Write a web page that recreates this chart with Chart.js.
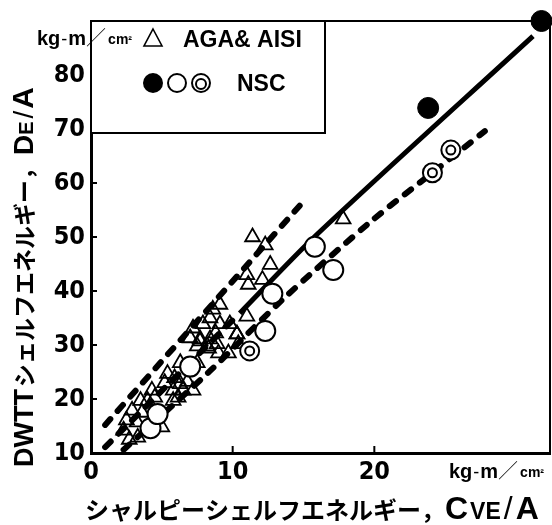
<!DOCTYPE html>
<html>
<head>
<meta charset="utf-8">
<script src="https://cdn.jsdelivr.net/npm/chart.js@4.4.0/dist/chart.umd.min.js"></script>
<style>
  html, body { margin: 0; padding: 0; background: #fff; }
  #wrap { width: 552px; height: 525px; }
</style>
</head>
<body>
<div id="wrap"><canvas id="chart" width="552" height="525"></canvas></div>
<script>
// tick labels
var xTicks = [0, 10, 20];
var yTicks = [10, 20, 30, 40, 50, 60, 70, 80];

// AGA & AISI (triangles)
var triX = [2.3, 2.7, 3.3, 2.5, 3.25, 2.9, 3.6, 3.5, 4.0, 4.3, 4.5, 5.0,
  5.2, 5.4, 5.8, 5.9, 5.8, 6.3, 6.5, 6.8, 7.2, 6.3, 7.5, 6.15,
  7.0, 7.2, 7.7, 8.3, 8.9, 9.0, 9.7, 9.1, 9.8, 10.3, 10.4, 11.0,
  8.4, 8.8, 7.9, 9.1, 8.6, 7.5, 8.2, 8.4, 7.7, 10.3,
  11.0, 11.1, 12.1, 11.4, 12.3, 12.65, 17.8];
var triY = [14.2, 12.5, 12.9, 16.1, 15.7, 17.9, 17.5, 19.7, 19.7, 21.6, 20.3, 14.8,
  23.0, 24.7, 21.6, 23.9, 19.7, 22.8, 21.6, 23.2, 21.6, 26.7, 26.7, 20.3,
  31.3, 33.1, 30.7, 29.4, 30.2, 28.5, 28.5, 33.9, 33.9, 32.0, 30.2, 35.3,
  35.0, 32.2, 33.9, 37.5, 36.6, 29.8, 29.8, 31.1, 31.1, 32.0,
  43.0, 41.2, 42.1, 50.0, 48.5, 44.9, 53.3];

// NSC
var fillX = [23.8, 31.8];
var fillY = [73.9, 90.0];
var openX = [4.2, 4.7, 7.0, 12.3, 12.8, 15.8, 17.1];
var openY = [14.6, 17.2, 26.0, 32.6, 39.5, 48.2, 43.9];
var dblX = [11.2, 24.1, 25.4];
var dblY = [28.9, 61.9, 66.1];

// fitted lines
var upperBandX = [1.0, 14.8];
var upperBandY = [15.2, 56.0];
var lowerBandX = [1.0, 10.5];
var lowerBandY = [11.1, 35.9];
var nscSolidX = [10.5, 16.0, 31.2];
var nscSolidY = [35.9, 50.6, 87.2];
var nscDashX = [2.3, 8.4, 13.6, 19.7, 24.1, 27.8];
var nscDashY = [10.6, 25.2, 38.6, 52.75, 61.9, 69.6];

var LAT = '"Liberation Sans", Arial, sans-serif';
var NARROW = '"Liberation Sans Narrow", "DejaVu Sans Condensed", "Liberation Sans", sans-serif';
var CJK = '"Noto Sans CJK JP", "Noto Sans CJK SC", sans-serif';

function pts(xs, ys) {
  return xs.map(function(x, i) { return {x: x, y: ys[i]}; });
}

function pieces(ctx, list, x, y) {
  list.forEach(function(p) {
    ctx.font = p[1];
    ctx.fillText(p[0], x, y);
    x += ctx.measureText(p[0]).width + (p[2] || 0);
  });
  return x;
}

function unitText(ctx, x, y) {
  ctx.textBaseline = 'alphabetic';
  ctx.textAlign = 'left';
  x = pieces(ctx, [['kg', '700 20px ' + LAT, 1], ['-', '400 18px ' + LAT, 1], ['m', '700 20px ' + LAT, 0]], x, y);
  x = pieces(ctx, [['／', '300 20px ' + CJK, 2]], x, y);
  pieces(ctx, [['cm', '700 14px ' + LAT], ['²', '700 11px ' + LAT]], x, y - 1);
}

var deco = {
  id: 'deco',
  afterDraw: function(chart) {
    var ctx = chart.ctx;
    var a = chart.chartArea;
    var xs = chart.scales.x, ys = chart.scales.y;
    ctx.save();
    ctx.strokeStyle = '#000';
    ctx.fillStyle = '#000';

    // frame top and right
    ctx.lineWidth = 2;
    ctx.beginPath();
    ctx.moveTo(a.left, a.top);
    ctx.lineTo(a.right, a.top);
    ctx.lineTo(a.right, a.bottom);
    ctx.stroke();

    // inward ticks
    ctx.lineWidth = 2;
    yTicks.forEach(function(v) {
      var py = ys.getPixelForValue(v);
      ctx.beginPath(); ctx.moveTo(a.left, py); ctx.lineTo(a.left + 6, py); ctx.stroke();
    });
    xTicks.forEach(function(v) {
      var px = xs.getPixelForValue(v);
      ctx.beginPath(); ctx.moveTo(px, a.bottom); ctx.lineTo(px, a.bottom - 7); ctx.stroke();
    });

    // legend box
    ctx.fillStyle = '#fff';
    ctx.fillRect(a.left, a.top, 234, 112);
    ctx.fillStyle = '#000';
    ctx.lineWidth = 2;
    ctx.strokeRect(a.left, a.top, 234, 112);

    // triangle symbol
    ctx.lineWidth = 1.6;
    ctx.beginPath();
    ctx.moveTo(153, 29); ctx.lineTo(162, 46); ctx.lineTo(144, 46); ctx.closePath();
    ctx.stroke();
    ctx.textBaseline = 'alphabetic';
    ctx.font = '700 23px ' + LAT;
    ctx.fillText('AGA& AISI', 183, 47);
    // circle symbols
    ctx.beginPath(); ctx.arc(153, 83, 10, 0, Math.PI * 2); ctx.fill();
    ctx.lineWidth = 2;
    ctx.beginPath(); ctx.arc(177, 83, 9, 0, Math.PI * 2); ctx.stroke();
    ctx.beginPath(); ctx.arc(201, 83, 9, 0, Math.PI * 2); ctx.stroke();
    ctx.beginPath(); ctx.arc(201, 84, 5, 0, Math.PI * 2); ctx.stroke();
    ctx.fillText('NSC', 237, 91);

    // units
    unitText(ctx, 37, 45);
    unitText(ctx, 449, 478);

    // x title
    ctx.textBaseline = 'alphabetic';
    pieces(ctx, [
      ['シャルピーシェルフエネルギー，', '700 24px ' + CJK],
      ['C', '700 32px ' + LAT, 2],
      ['VE', '700 23px ' + LAT, 3],
      ['/', '400 32px ' + LAT, 3],
      ['A', '700 32px ' + LAT]
    ], 85, 519);

    // y title
    ctx.save();
    ctx.translate(33, 467);
    ctx.rotate(-Math.PI / 2);
    pieces(ctx, [
      ['DWTT', '700 27px ' + LAT, 2],
      ['シェルフエネルギー，', '700 23px ' + CJK, 2],
      ['D', '700 28px ' + LAT],
      ['E', '700 20px ' + LAT, 3],
      ['/', '400 28px ' + LAT, 2],
      ['A', '700 30px ' + LAT]
    ], 0, 0);
    ctx.restore();

    ctx.restore();
  }
};

var dashLine = function(xs, ys) {
  return {
    type: 'line', data: pts(xs, ys), borderColor: '#000', borderWidth: 6,
    borderDash: [8, 11], borderCapStyle: 'round', pointRadius: 0, tension: 0.3, order: 5
  };
};

new Chart(document.getElementById('chart'), {
  type: 'scatter',
  data: {
    datasets: [
      {label: 'NSC filled', data: pts(fillX, fillY), pointStyle: 'circle', pointRadius: 10.5,
        backgroundColor: '#000', borderColor: '#000', borderWidth: 1, clip: false, order: 1},
      {label: 'NSC double inner', data: pts(dblX, dblY), pointStyle: 'circle', pointRadius: 4.5,
        backgroundColor: 'rgba(0,0,0,0)', borderColor: '#000', borderWidth: 2, order: 1},
      {label: 'NSC double', data: pts(dblX, dblY), pointStyle: 'circle', pointRadius: 9.5,
        backgroundColor: '#fff', borderColor: '#000', borderWidth: 2, order: 2},
      {label: 'NSC open', data: pts(openX, openY), pointStyle: 'circle', pointRadius: 10,
        backgroundColor: '#fff', borderColor: '#000', borderWidth: 2, order: 2},
      {label: 'AGA & AISI', data: pts(triX, triY), pointStyle: 'triangle', pointRadius: 8.5,
        backgroundColor: 'rgba(0,0,0,0)', borderColor: '#000', borderWidth: 1.8, order: 3},
      dashLine(upperBandX, upperBandY),
      dashLine(lowerBandX, lowerBandY),
      dashLine(nscDashX, nscDashY),
      {type: 'line', data: pts(nscSolidX, nscSolidY), borderColor: '#000', borderWidth: 5,
        pointRadius: 0, tension: 0.3, order: 5}
    ]
  },
  options: {
    responsive: false,
    animation: false,
    devicePixelRatio: 1,
    layout: {autoPadding: false, padding: {top: 16, right: 2, left: 0, bottom: 0}},
    plugins: {legend: {display: false}, tooltip: {enabled: false}},
    scales: {
      x: {
        type: 'linear', min: 0, max: 32.4,
        border: {display: true, width: 3, color: '#000'},
        grid: {display: false, drawTicks: false},
        afterBuildTicks: function(s) { s.ticks = xTicks.map(function(v) { return {value: v}; }); },
        afterFit: function(s) { s.height = 72; },
        ticks: {color: '#000', padding: 4, maxRotation: 0, font: {family: NARROW, size: 25, weight: '700'}}
      },
      y: {
        type: 'linear', min: 10, max: 90,
        border: {display: true, width: 3, color: '#000'},
        grid: {display: false, drawTicks: false},
        afterBuildTicks: function(s) { s.ticks = yTicks.map(function(v) { return {value: v}; }); },
        afterFit: function(s) { s.width = 91; },
        ticks: {color: '#000', padding: 6, font: {family: NARROW, size: 25, weight: '700'}}
      }
    }
  },
  plugins: [deco]
});
</script>
</body>
</html>
